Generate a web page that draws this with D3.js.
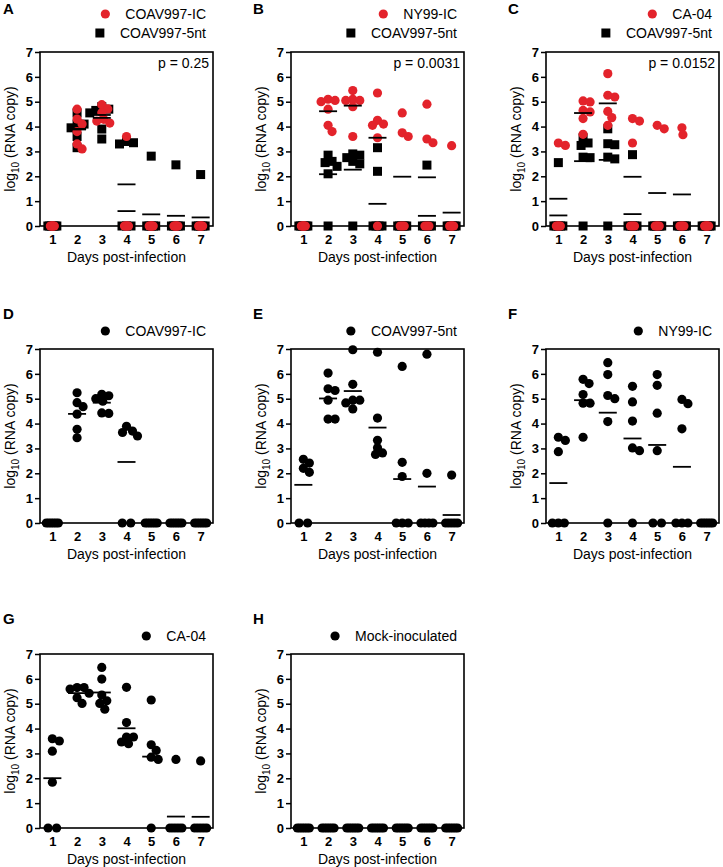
<!DOCTYPE html>
<html>
<head>
<meta charset="utf-8">
<script src="https://cdn.jsdelivr.net/npm/d3@7"></script>
<style>
  body { margin: 0; background: #fff; }
  text { font-family: Arial, "Liberation Sans", sans-serif; }
</style>
</head>
<body>
<div id="chart"></div>
<script>
var width = 723;
var height = 867;
var red = "#e3232b";

var days = [1, 2, 3, 4, 5, 6, 7];
var yTicks = [0, 1, 2, 3, 4, 5, 6, 7];

// log10 RNA copies, one row per day (6 animals each)
var aIC = [
	[0, 0, 0, 0, 0, 0],
	[4.7, 4.3, 4.1, 3.8, 3.3, 3.1],
	[4.88, 4.71, 4.56, 4.29, 4.22, 4.14],
	[3.6, 0, 0, 0, 0, 0],
	[0, 0, 0, 0, 0, 0],
	[0, 0, 0, 0, 0, 0],
	[0, 0, 0, 0, 0, 0]
];
var a5nt = [
	[0, 0, 0, 0, 0, 0],
	[4.55, 4.1, 4.1, 3.95, 3.6, 3.15],
	[4.8, 4.7, 4.65, 4.55, 3.9, 3.5],
	[3.4, 3.35, 3.3, 0, 0, 0],
	[2.81, 0, 0, 0, 0, 0],
	[2.46, 0, 0, 0, 0, 0],
	[2.07, 0, 0, 0, 0, 0]
];
var bNY = [
	[0, 0, 0, 0, 0, 0],
	[5.05, 5.1, 5.0, 4.7, 4.05, 3.8],
	[5.45, 5.1, 5.05, 5.05, 4.8, 3.6],
	[5.35, 4.25, 4.1, 4.05, 3.55, 0],
	[4.55, 3.75, 3.6, 0, 0, 0],
	[4.9, 3.5, 3.35, 0, 0, 0],
	[3.23, 0, 0, 0, 0, 0]
];
var b5nt = [
	[0, 0, 0, 0, 0, 0],
	[2.85, 2.6, 2.55, 2.4, 2.1, 0],
	[2.9, 2.85, 2.75, 2.6, 2.5, 0],
	[3.15, 2.2, 0, 0, 0, 0],
	[0, 0, 0, 0, 0, 0],
	[2.45, 0, 0, 0, 0, 0],
	[0, 0, 0, 0, 0, 0]
];
var cCA = [
	[3.34, 3.24, 0, 0, 0, 0],
	[5.03, 4.99, 4.65, 4.59, 4.32, 3.69],
	[6.13, 5.26, 5.19, 4.61, 4.36, 4.05],
	[4.32, 4.22, 3.34, 0, 0, 0],
	[4.05, 3.91, 0, 0, 0, 0],
	[3.95, 3.67, 0, 0, 0, 0],
	[0, 0, 0, 0, 0, 0]
];
var c5nt = [
	[2.55, 0, 0, 0, 0, 0],
	[3.55, 3.34, 3.24, 2.77, 2.75, 0],
	[3.91, 3.31, 3.27, 2.77, 2.7, 0],
	[2.87, 0, 0, 0, 0, 0],
	[0, 0, 0, 0, 0, 0],
	[0, 0, 0, 0, 0, 0],
	[0, 0, 0, 0, 0, 0]
];
var dIC = [
	[0, 0, 0, 0, 0, 0],
	[5.24, 4.84, 4.68, 4.38, 3.77, 3.43],
	[5.18, 5.12, 5.0, 4.9, 4.43, 4.41],
	[3.89, 3.7, 3.64, 3.5, 0, 0],
	[0, 0, 0, 0, 0, 0],
	[0, 0, 0, 0, 0, 0],
	[0, 0, 0, 0, 0, 0]
];
var e5nt = [
	[2.56, 2.41, 2.2, 2.04, 0, 0],
	[6.03, 5.4, 5.33, 4.94, 4.18, 4.18],
	[6.97, 5.58, 4.94, 4.94, 4.83, 4.59],
	[6.87, 4.22, 3.33, 3.03, 2.82, 2.76],
	[6.3, 2.44, 1.87, 0, 0, 0],
	[6.79, 2.0, 0, 0, 0, 0],
	[1.93, 0, 0, 0, 0, 0]
];
var fNY = [
	[3.45, 3.32, 2.87, 0, 0, 0],
	[5.78, 5.61, 5.17, 4.82, 4.82, 3.45],
	[6.45, 5.97, 5.13, 5.0, 4.08, 0],
	[5.5, 4.87, 4.1, 3.02, 2.91, 0],
	[5.97, 5.54, 4.42, 2.91, 0, 0],
	[4.97, 4.8, 3.79, 0, 0, 0],
	[0, 0, 0, 0, 0, 0]
];
var gCA = [
	[3.59, 3.5, 3.09, 1.84, 0, 0],
	[5.65, 5.65, 5.59, 5.42, 5.24, 5.01],
	[6.46, 5.99, 5.35, 5.12, 5.01, 4.78],
	[5.66, 4.24, 3.66, 3.66, 3.46, 3.39],
	[5.15, 3.35, 3.12, 2.85, 2.76, 0],
	[2.76, 0, 0, 0, 0, 0],
	[2.7, 0, 0, 0, 0, 0]
];
var hMock = [
	[0, 0, 0, 0, 0, 0],
	[0, 0, 0, 0, 0, 0],
	[0, 0, 0, 0, 0, 0],
	[0, 0, 0, 0, 0, 0],
	[0, 0, 0, 0, 0, 0],
	[0, 0, 0, 0, 0, 0],
	[0, 0, 0, 0, 0, 0]
];

var pValues = ["p = 0.25", "p = 0.0031", "p = 0.0152"];

// legend order = top to bottom; drawn in reverse so circles sit on top
var panels = [
	{ letter: "A", row: 0, col: 0, p: pValues[0], series: [
		{ name: "COAV997-IC", data: aIC, shape: "circle", color: red, zeroSpan: 4 },
		{ name: "COAV997-5nt", data: a5nt, shape: "square", color: "#000", zeroSpan: 9 }] },
	{ letter: "B", row: 0, col: 1, p: pValues[1], series: [
		{ name: "NY99-IC", data: bNY, shape: "circle", color: red, zeroSpan: 4 },
		{ name: "COAV997-5nt", data: b5nt, shape: "square", color: "#000", zeroSpan: 9 }] },
	{ letter: "C", row: 0, col: 2, p: pValues[2], series: [
		{ name: "CA-04", data: cCA, shape: "circle", color: red, zeroSpan: 4 },
		{ name: "COAV997-5nt", data: c5nt, shape: "square", color: "#000", zeroSpan: 9 }] },
	{ letter: "D", row: 1, col: 0, series: [{ name: "COAV997-IC", data: dIC, shape: "circle", color: "#000", zeroSpan: 12 }] },
	{ letter: "E", row: 1, col: 1, series: [{ name: "COAV997-5nt", data: e5nt, shape: "circle", color: "#000", zeroSpan: 12 }] },
	{ letter: "F", row: 1, col: 2, series: [{ name: "NY99-IC", data: fNY, shape: "circle", color: "#000", zeroSpan: 12 }] },
	{ letter: "G", row: 2, col: 0, series: [{ name: "CA-04", data: gCA, shape: "circle", color: "#000", zeroSpan: 12 }] },
	{ letter: "H", row: 2, col: 1, series: [{ name: "Mock-inoculated", data: hMock, shape: "circle", color: "#000", zeroSpan: 12 }] }
];

var rowTop = [52, 349, 654];
var colLeft = [40, 291, 546];
var plotW = 173;
var plotH = 174;
var r = 4.6;

var svg = d3.select("#chart")
	.append("svg")
	.attr("width", width)
	.attr("height", height);

// simple column scatter: zeros squeezed in a row, others swarmed
function swarm(vals, xc, y, zeroSpan) {
	var out = [];
	var zeros = vals.filter(v => v === 0);
	var n0 = zeros.length;
	var sp = n0 > 1 ? Math.min(8.5, zeroSpan / (n0 - 1)) : 0;
	zeros.forEach((v, i) => out.push({ v: v, x: xc + (i - (n0 - 1) / 2) * sp, y: y(0) }));

	var placed = [];
	vals.filter(v => v > 0).sort((a, b) => b - a).forEach(v => {
		var py = y(v);
		var best = 0, bestD = -1;
		for (var k = 0; k <= 24; k++) {
			var off = (k % 2 ? 1 : -1) * Math.ceil(k / 2);
			var px = xc + off;
			var d = d3.min(placed, p => Math.hypot(p.x - px, p.y - py));
			if (d === undefined) d = 99;
			if (d >= 7) { best = off; bestD = d; break; }
			if (d > bestD) { bestD = d; best = off; }
		}
		var pt = { v: v, x: xc + best, y: py };
		placed.push(pt);
		out.push(pt);
	});
	return out;
}

panels.forEach(panel => {
	var left = colLeft[panel.col];
	var top = rowTop[panel.row];
	var g = svg.append("g");

	var x = d3.scaleLinear().domain([0.5, 7.5]).range([left, left + plotW]);
	var y = d3.scaleLinear().domain([0, 7]).range([top + plotH, top]);

	// panel letter
	g.append("text")
		.attr("x", colLeft[panel.col] - 37 + (panel.col ? -1 : 0))
		.attr("y", top - 38 + (panel.row === 0 ? 0 : 8))
		.attr("font-size", 15)
		.attr("font-weight", "bold")
		.text(panel.letter);

	// y axis
	var yAxis = g.append("g")
		.attr("transform", "translate(" + left + ",0)")
		.call(d3.axisLeft(y).tickValues(yTicks).tickFormat(d3.format("d")).tickSize(5).tickSizeOuter(0).tickPadding(2));
	yAxis.select(".domain").remove();
	yAxis.selectAll("line").attr("stroke-width", 1.5);
	yAxis.selectAll("text")
		.attr("font-size", 13)
		.attr("font-weight", "bold")
		.attr("fill", "#000")
		.style("font-family", "Arial, 'Liberation Sans', sans-serif");

	// x axis labels
	var xAxis = g.append("g")
		.attr("transform", "translate(0," + (top + plotH) + ")")
		.call(d3.axisBottom(x).tickValues(days).tickFormat(d3.format("d")).tickSize(0).tickPadding(9));
	xAxis.select(".domain").remove();
	xAxis.selectAll("text")
		.attr("font-size", 13)
		.attr("font-weight", "bold")
		.attr("fill", "#000")
		.style("font-family", "Arial, 'Liberation Sans', sans-serif");

	g.append("text")
		.attr("x", left + plotW / 2)
		.attr("y", top + plotH + 36)
		.attr("text-anchor", "middle")
		.attr("font-size", 14)
		.text("Days post-infection");

	var yt = g.append("text")
		.attr("transform", "translate(" + (left - 25) + "," + (top + plotH / 2) + ") rotate(-90)")
		.attr("text-anchor", "middle")
		.attr("font-size", 14);
	yt.append("tspan").text("log");
	yt.append("tspan").attr("font-size", 10).attr("dy", 4).text("10");
	yt.append("tspan").attr("dy", -4).text(" (RNA copy)");

	// frame
	g.append("rect")
		.attr("x", left)
		.attr("y", top)
		.attr("width", plotW)
		.attr("height", plotH)
		.attr("fill", "none")
		.attr("stroke", "#000")
		.attr("stroke-width", 1.6);

	if (panel.p) {
		g.append("text")
			.attr("x", left + plotW - 4)
			.attr("y", top + 16)
			.attr("text-anchor", "end")
			.attr("font-size", 14)
			.text(panel.p);
	}

	// points
	panel.series.slice().reverse().forEach(s => {
		s.data.forEach((vals, i) => {
			var pts = swarm(vals, x(days[i]), y, s.zeroSpan);
			if (s.shape === "circle") {
				g.append("g").selectAll("circle")
					.data(pts)
					.enter()
					.append("circle")
					.attr("cx", d => d.x)
					.attr("cy", d => d.y)
					.attr("r", r)
					.attr("fill", s.color);
			} else {
				g.append("g").selectAll("rect")
					.data(pts)
					.enter()
					.append("rect")
					.attr("x", d => d.x - 4.5)
					.attr("y", d => d.y - 4.5)
					.attr("width", 9)
					.attr("height", 9)
					.attr("fill", s.color);
			}
		});
	});

	// mean lines
	panel.series.forEach(s => {
		s.data.forEach((vals, i) => {
			var m = d3.mean(vals);
			if (m <= 0) return;
			g.append("line")
				.attr("x1", x(days[i]) - 9)
				.attr("x2", x(days[i]) + 9)
				.attr("y1", y(m))
				.attr("y2", y(m))
				.attr("stroke", "#000")
				.attr("stroke-width", 1.8);
		});
	});

	// legend
	panel.series.forEach((s, k) => {
		var cy = top - (panel.series.length === 2 ? 38 - k * 19 : 18);
		var t = g.append("text")
			.attr("x", left + 166)
			.attr("y", cy + 5)
			.attr("text-anchor", "end")
			.attr("font-size", 14)
			.text(s.name);
		var mx = left + 166 - t.node().getComputedTextLength() - 20;
		if (s.shape === "circle") {
			g.append("circle").attr("cx", mx).attr("cy", cy).attr("r", r).attr("fill", s.color);
		} else {
			g.append("rect").attr("x", mx - 4.5).attr("y", cy - 4.5).attr("width", 9).attr("height", 9).attr("fill", s.color);
		}
	});
});
</script>
</body>
</html>
